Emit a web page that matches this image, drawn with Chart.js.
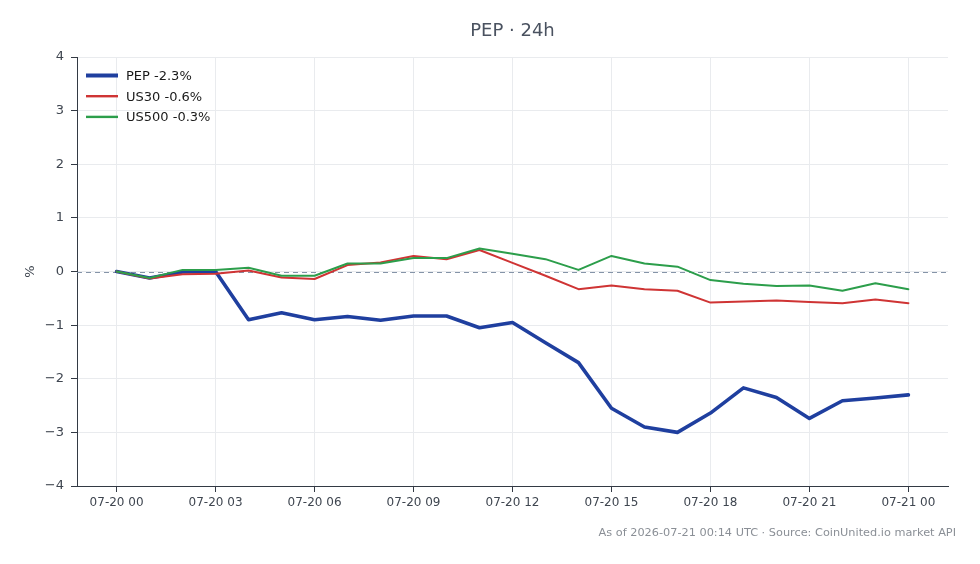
<!DOCTYPE html>
<html><head><meta charset="utf-8">
<script src="https://cdn.jsdelivr.net/npm/chart.js@4.4.1/dist/chart.umd.min.js"></script>
<style>html,body{margin:0;padding:0;background:#fff}#wrap{width:980px;height:564px;position:relative}</style>
</head><body><div id="wrap"><canvas id="c" width="980" height="564"></canvas></div>
<script>
const hours = [0,1,2,3,4,5,6,7,8,9,10,11,12,13,14,15,16,17,18,19,20,21,22,23,24];
const pep = [0, -0.12, -0.01, 0.0, -0.90, -0.77, -0.90, -0.84, -0.91, -0.83, -0.83, -1.05, -0.95, -1.33, -1.70, -2.55, -2.90, -3.00, -2.64, -2.17, -2.35, -2.74, -2.41, -2.36, -2.30];
const us30 = [0, -0.13, -0.05, -0.04, 0.02, -0.11, -0.14, 0.12, 0.17, 0.29, 0.23, 0.40, 0.16, -0.08, -0.33, -0.26, -0.33, -0.36, -0.58, -0.56, -0.54, -0.57, -0.59, -0.52, -0.59];
const us500 = [0, -0.12, 0.03, 0.03, 0.07, -0.08, -0.08, 0.15, 0.15, 0.25, 0.25, 0.43, 0.33, 0.23, 0.03, 0.29, 0.15, 0.09, -0.16, -0.23, -0.27, -0.26, -0.36, -0.22, -0.33];
const seriesNames = ['PEP -2.3%', 'US30 -0.6%', 'US500 -0.3%'];
const xTickHours = [0,3,6,9,12,15,18,21,24];
const xTickLabels = ['07-20 00','07-20 03','07-20 06','07-20 09','07-20 12','07-20 15','07-20 18','07-20 21','07-21 00'];
const yTicks = [-4,-3,-2,-1,0,1,2,3,4];
const titleText = 'PEP · 24h';
const footerText = 'As of 2026-07-21 00:14 UTC · Source: CoinUnited.io market API';
const yAxisTitle = '%';

const FONT = "'DejaVu Sans', sans-serif";
const colors = ['#1f3f9f', '#cf3434', '#2c9e4b'];
const widths = [3.6, 2, 2];

function toPts(vals){ return vals.map((v,i)=>({x: hours[i], y: v})); }

const extras = {
  id: 'extras',
  beforeDatasetsDraw(chart){
    const ctx = chart.ctx, a = chart.chartArea, y = chart.scales.y.getPixelForValue(0);
    ctx.save();
    ctx.strokeStyle = '#8594a8'; ctx.lineWidth = 1; ctx.setLineDash([5,4]);
    ctx.beginPath(); ctx.moveTo(a.left, Math.round(y)+0.5); ctx.lineTo(a.right, Math.round(y)+0.5); ctx.stroke();
    ctx.restore();
  },
  afterDraw(chart){
    const ctx = chart.ctx, a = chart.chartArea;
    ctx.save();
    ctx.fillStyle = '#4a5260'; ctx.font = '18px ' + FONT; ctx.textAlign = 'center'; ctx.textBaseline = 'middle';
    ctx.fillText(titleText, (a.left + a.right)/2, 31);
    ctx.fillStyle = '#8a8f96'; ctx.font = '11.3px ' + FONT; ctx.textAlign = 'right';
    ctx.fillText(footerText, 956, 533);
    // legend
    ctx.textAlign = 'left'; ctx.font = '13px ' + FONT; ctx.setLineDash([]);
    chart.data.datasets.forEach((ds, i) => {
      const yy = a.top + 18.5 + i*20.7;
      ctx.strokeStyle = ds.borderColor; ctx.lineWidth = ds.borderWidth + 0.4;
      ctx.beginPath(); ctx.moveTo(a.left + 9, yy); ctx.lineTo(a.left + 41, yy); ctx.stroke();
      ctx.fillStyle = '#1a1a1a';
      ctx.fillText(ds.label, a.left + 49, yy + 1);
    });
    ctx.restore();
  }
};

new Chart(document.getElementById('c'), {
  type: 'line',
  data: {
    datasets: [
      { label: seriesNames[0], data: toPts(pep), borderColor: colors[0], borderWidth: widths[0], order: 3 },
      { label: seriesNames[1], data: toPts(us30), borderColor: colors[1], borderWidth: widths[1], order: 2 },
      { label: seriesNames[2], data: toPts(us500), borderColor: colors[2], borderWidth: widths[2], order: 1 }
    ]
  },
  options: {
    responsive: false, animation: false, devicePixelRatio: 1,
    layout: { padding: { left: 0, right: 32, top: 57, bottom: 0 } },
    elements: { point: { radius: 0 }, line: { tension: 0, borderJoinStyle: 'round', borderCapStyle: 'round', fill: false } },
    plugins: { legend: { display: false }, title: { display: false }, tooltip: { enabled: false } },
    scales: {
      x: {
        type: 'linear', min: -1.2, max: 25.2,
        afterBuildTicks(s){ s.ticks = xTickHours.map(v => ({ value: v })); },
        afterFit(s){ s.height = 78; },
        ticks: { callback: (v) => { const i = xTickHours.indexOf(v); return i >= 0 ? xTickLabels[i] : ''; }, color: '#3f4650', font: { family: FONT, size: 12 }, padding: 4, maxRotation: 0, autoSkip: false },
        grid: { color: '#e9ebee', lineWidth: 1, tickColor: '#333a44', tickLength: 6, drawTicks: true },
        border: { display: true, color: '#333a44', width: 1 }
      },
      y: {
        min: -4, max: 4,
        afterBuildTicks(s){ s.ticks = yTicks.map(v => ({ value: v })); },
        afterFit(s){ s.width = 77; },
        ticks: { callback: (v) => v < 0 ? '\u2212' + Math.abs(v) : String(v), color: '#3f4650', font: { family: FONT, size: 13 }, padding: 7 },
        grid: { color: '#e9ebee', lineWidth: 1, tickColor: '#333a44', tickLength: 6, drawTicks: true },
        border: { display: true, color: '#333a44', width: 1 },
        title: { display: true, text: yAxisTitle, color: '#3f4650', font: { family: FONT, size: 13 }, padding: { top: 23, bottom: 0 } }
      }
    }
  },
  plugins: [extras]
});
</script>
</body></html>
